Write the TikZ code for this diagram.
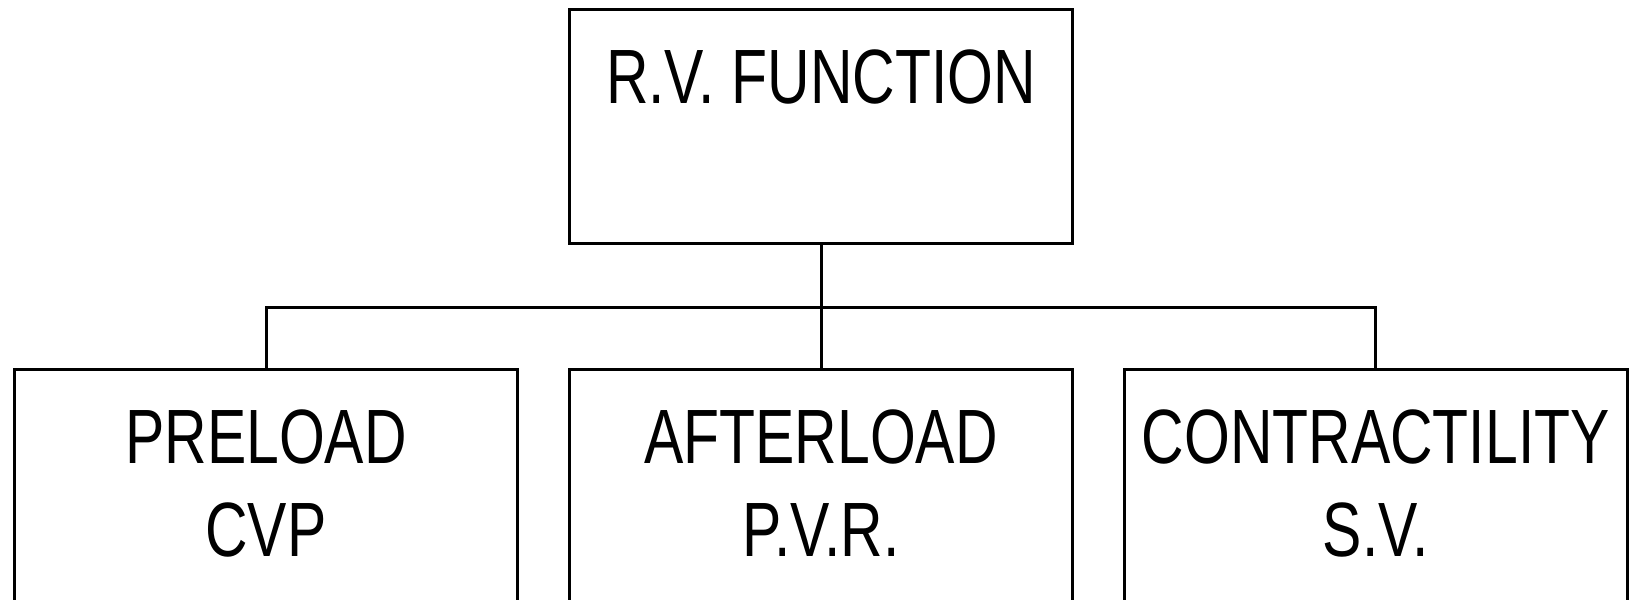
\documentclass[tikz,border=0pt]{standalone}
\usepackage{fontspec}
\newfontfamily\boxfont{Liberation Sans}[FakeStretch=0.765]
\usetikzlibrary{calc}

\tikzset{
  box/.style={draw,line width=1.5pt,minimum width=251.5pt,minimum height=117pt,inner sep=0pt},
  boxtext/.style={anchor=base,align=center,inner sep=0pt,font=\boxfont\fontsize{38.5}{46.65}\selectfont},
}

\begin{document}
\begin{tikzpicture}[x=0.5pt,y=-0.5pt,line width=1.5pt]
\useasboundingbox (0,0) rectangle (1629,600);
% boxes
\node[box] (rv)  at (821,126.3) {};
\node[box] (pre) at (266,486.3) {};
\node[box] (aft) at (821,486.3) {};
\node[box] (con) at (1375.7,486.3) {};
% texts (base = last line)
\node[boxtext] (rvtext)  at ($(rv.north)+(0,189)$)  {R.V. FUNCTION\\\mbox{}};
\node[boxtext] (pretext) at ($(pre.north)+(0,189)$) {PRELOAD\\CVP};
\node[boxtext] (afttext) at ($(aft.north)+(0,189)$) {AFTERLOAD\\P.V.R.};
\node[boxtext] (context) at ($(con.north)+(0,189)$) {CONTRACTILITY\\S.V.};
% connectors
\draw (rv.south) -- ++(0,62.7) coordinate (bus);
\draw (pre.north) |- (bus) -| (con.north);
\draw (bus) -- (aft.north);
\end{tikzpicture}
\end{document}
